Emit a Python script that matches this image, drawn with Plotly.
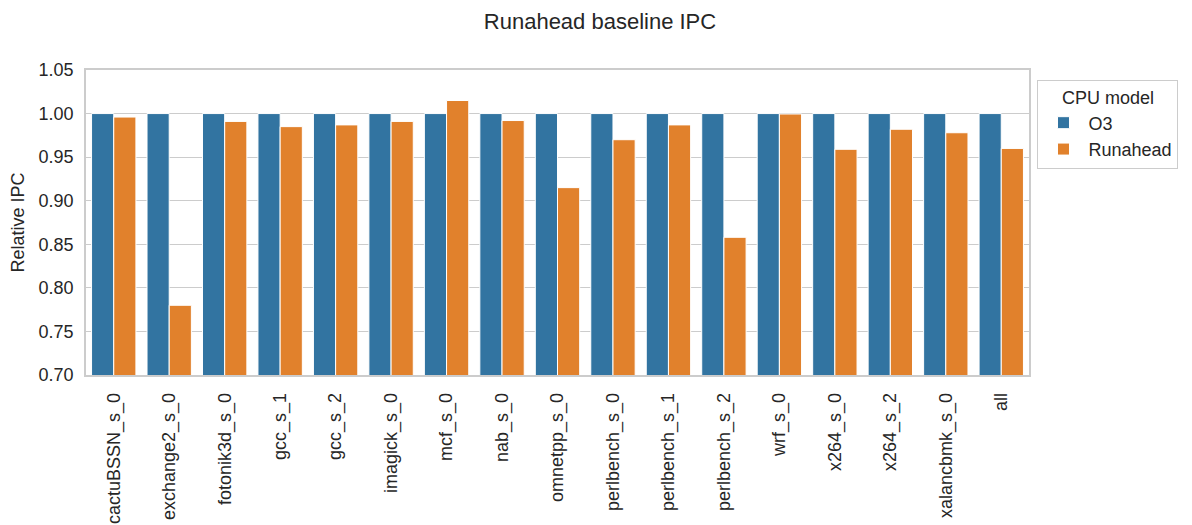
import plotly.graph_objects as go

benchmarks = ["cactuBSSN_s_0", "exchange2_s_0", "fotonik3d_s_0", "gcc_s_1", "gcc_s_2",
              "imagick_s_0", "mcf_s_0", "nab_s_0", "omnetpp_s_0", "perlbench_s_0",
              "perlbench_s_1", "perlbench_s_2", "wrf_s_0", "x264_s_0", "x264_s_2",
              "xalancbmk_s_0", "all"]
o3_ipc = [1.0] * 17
runahead_ipc = [0.996, 0.780, 0.991, 0.985, 0.987, 0.991, 1.015, 0.992, 0.915, 0.970,
                0.987, 0.858, 0.9995, 0.959, 0.982, 0.978, 0.960]
y_ticks = [0.70, 0.75, 0.80, 0.85, 0.90, 0.95, 1.00, 1.05]

font = "Liberation Sans, Arial, sans-serif"
W, H = 1184, 517  # page body has an 8px margin
fig = go.Figure()
fig.add_trace(go.Bar(x=benchmarks, y=o3_ipc, name="O3", marker_color="#3274a1",
                     marker_line=dict(color="white", width=1)))
fig.add_trace(go.Bar(x=benchmarks, y=runahead_ipc, name="Runahead", marker_color="#e1812c",
                     marker_line=dict(color="white", width=1)))

fig.update_layout(
    width=W, height=H,
    margin=dict(l=78, r=163, t=62, b=150, autoexpand=False),
    paper_bgcolor="white", plot_bgcolor="white",
    font=dict(family=font, size=18, color="#262626"),
    title=dict(text="Runahead baseline IPC", x=0.5, xref="container", y=1 - 13 / H,
               yref="container", xanchor="center", yanchor="middle",
               font=dict(size=22, color="#262626")),
    barmode="group", bargap=0.2, bargroupgap=0.0,
    showlegend=True,
    legend=dict(title=dict(text="CPU model", side="top center", font=dict(size=18)),
                x=1.009, y=0.967, xanchor="left", yanchor="top",
                bordercolor="#cccccc", borderwidth=1, bgcolor="white",
                font=dict(size=18), itemwidth=40),
)
fig.update_xaxes(tickangle=-90, showgrid=False, showline=True, linecolor="#cccccc",
                 linewidth=1.5, mirror=True, ticks="", tickfont=dict(size=18),
                 automargin=False, ticklabelstandoff=9)
fig.update_yaxes(range=[0.70, 1.05], tickvals=y_ticks, tickformat=".2f",
                 showgrid=True, gridcolor="#cccccc", gridwidth=1.2,
                 showline=True, linecolor="#cccccc", linewidth=1.5, mirror=True,
                 ticks="", zeroline=False, automargin=False, tickfont=dict(size=18),
                 ticklabelstandoff=7,
                 title=dict(text="Relative IPC", font=dict(size=18), standoff=10))
fig.write_html("out.html")
